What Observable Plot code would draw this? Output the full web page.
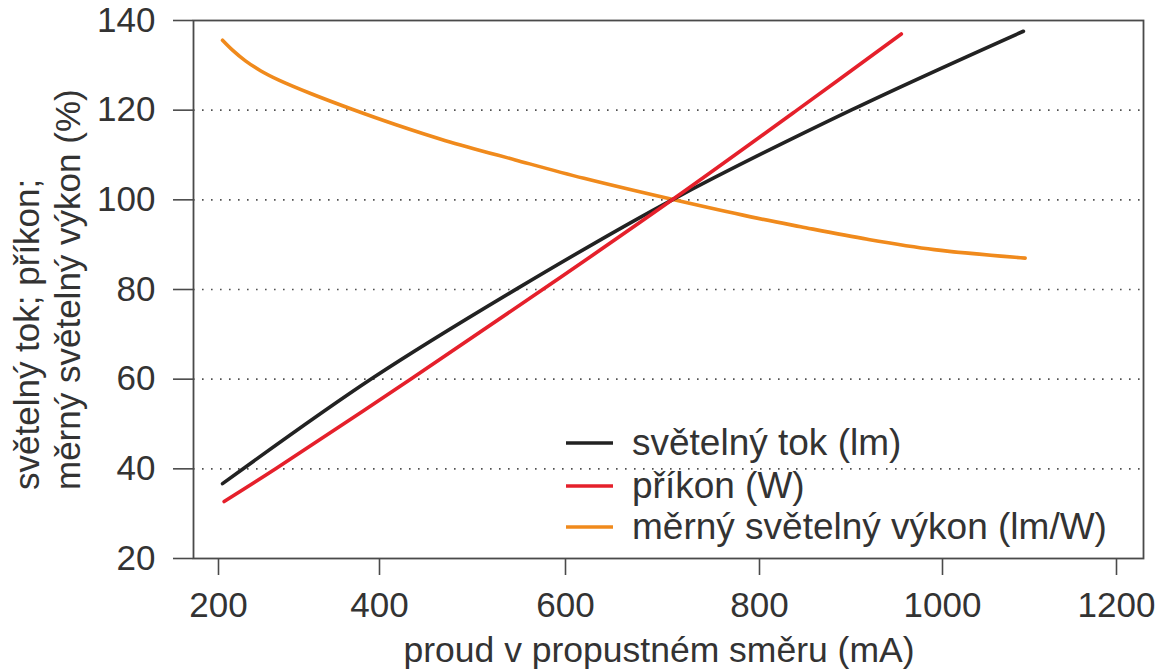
<!DOCTYPE html>
<html>
<head>
<meta charset="utf-8">
<script src="https://cdn.jsdelivr.net/npm/d3@7"></script>
<script src="https://cdn.jsdelivr.net/npm/@observablehq/plot@0.6"></script>
<style>
  html, body { margin: 0; padding: 0; background: #fff; }
  #chart { position: relative; width: 1159px; height: 670px; }
</style>
</head>
<body>
<div id="chart"></div>
<script>
// ---- data ----
const xTicks = [200, 400, 600, 800, 1000, 1200];
const yTicks = [20, 40, 60, 80, 100, 120, 140];
const gridValues = [40, 60, 80, 100, 120];

// světelný tok (lm) — % vs. current (mA)
const fluxI = [205, 391, 548, 710, 900, 1093];
const fluxV = [36.7, 60.2, 80.2, 100, 120, 137.6];

// příkon (W)
const powerI = [207, 271, 435, 577, 710, 841, 955];
const powerV = [32.7, 40, 60.2, 80.2, 100, 120, 137.0];

// měrný světelný výkon (lm/W)
const effI = [205, 217.4, 233.5, 252.2, 275, 316, 366, 417, 471, 546, 619, 712, 791, 845, 918, 991, 1095];
const effV = [135.6, 133.4, 131.0, 128.8, 126.7, 123.6, 120.2, 116.8, 113.2, 108.9, 104.8, 100, 96.2, 94.0, 91.2, 88.9, 87.0];

const seriesNames = ["světelný tok (lm)", "příkon (W)", "měrný světelný výkon (lm/W)"];
const seriesColors = ["#222222", "#e5202b", "#f08a1c"];

const xTitle = "proud v propustném směru (mA)";
const yTitleLines = ["světelný tok; příkon;", "měrný světelný výkon (%)"];

// ---- build ----
const toRows = (I, V) => I.map((x, i) => ({x, y: V[i]}));
const flux = toRows(fluxI, fluxV);
const power = toRows(powerI, powerV);
const eff = toRows(effI, effV);

const font = "'Liberation Sans', Arial, Helvetica, sans-serif";
const ink = "#333333";
const axisInk = "#4a4a4a";

const plot = Plot.plot({
  width: 1159,
  height: 670,
  marginLeft: 193,
  marginRight: 16,
  marginTop: 20,
  marginBottom: 112,
  style: {fontFamily: font, color: ink, background: "#fff"},
  x: {type: "linear", domain: xTicks, range: [218, 379, 565, 759, 942, 1116]},
  y: {domain: [20, 140]},
  marks: [
    Plot.gridY(gridValues, {stroke: "#333", strokeOpacity: 0.85, strokeWidth: 1.6, strokeDasharray: "1.6,7.4"}),
    Plot.frame({stroke: axisInk, strokeWidth: 1.8}),
    Plot.axisY({ticks: yTicks, tickFormat: d => String(d), tickSize: 20, tickPadding: 18, fontSize: 35, label: null, stroke: axisInk, strokeWidth: 1.6, fill: ink}),
    Plot.axisX({ticks: xTicks, tickFormat: d => String(d), tickSize: 17, tickPadding: 17, fontSize: 35, label: null, stroke: axisInk, strokeWidth: 1.6, fill: ink}),
    Plot.line(eff, {x: "x", y: "y", stroke: seriesColors[2], strokeWidth: 3.6, curve: "catmull-rom"}),
    Plot.line(flux, {x: "x", y: "y", stroke: seriesColors[0], strokeWidth: 3.6, curve: "catmull-rom"}),
    Plot.line(power, {x: "x", y: "y", stroke: seriesColors[1], strokeWidth: 3.6, curve: "catmull-rom"})
  ]
});

document.getElementById("chart").appendChild(plot);

// ---- titles and legend added as SVG text ----
const svg = d3.select(plot);

svg.append("text")
  .attr("x", 659).attr("y", 662)
  .attr("text-anchor", "middle")
  .attr("font-family", font).attr("font-size", 35.5).attr("fill", ink)
  .text(xTitle);

const yTitle = svg.append("g").attr("font-family", font).attr("font-size", 35).attr("fill", ink);
yTitleLines.forEach((t, i) => {
  yTitle.append("text")
    .attr("transform", `translate(${39 + i * 41},490) rotate(-90)`)
    .attr("text-anchor", "start")
    .text(t);
});

const legend = svg.append("g").attr("font-family", font).attr("font-size", 37).attr("fill", ink).attr("text-anchor", "start");
const legendY = [443, 486, 527];
seriesNames.forEach((name, i) => {
  legend.append("line")
    .attr("x1", 566).attr("x2", 613)
    .attr("y1", legendY[i]).attr("y2", legendY[i])
    .attr("stroke", seriesColors[i]).attr("stroke-width", 3.6);
  legend.append("text")
    .attr("x", 632).attr("y", legendY[i] + 12)
    .attr("text-anchor", "start")
    .text(name);
});
</script>
</body>
</html>
